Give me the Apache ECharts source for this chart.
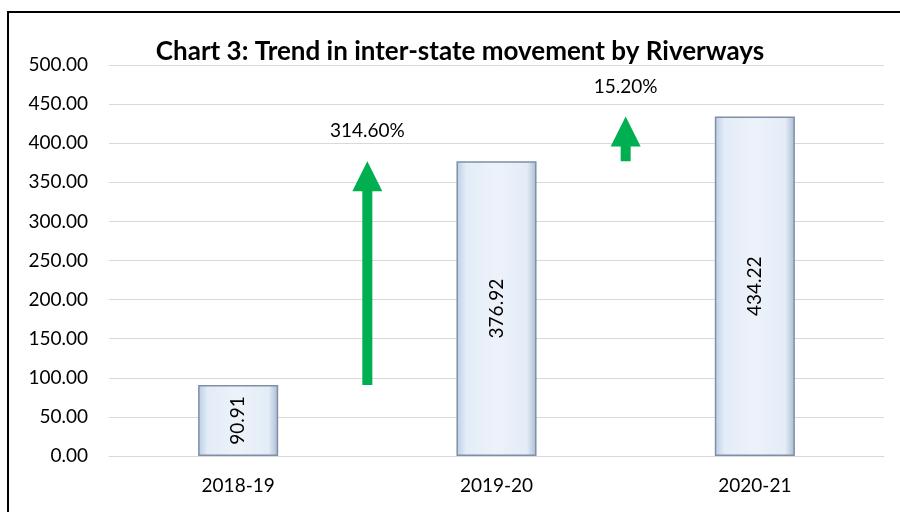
<!DOCTYPE html>
<html>
<head>
<meta charset="utf-8">
<script src="https://cdn.jsdelivr.net/npm/echarts@6/dist/echarts.min.js"></script>
<style>
  html, body { margin: 0; padding: 0; background: #fff; }
  #wrap { position: relative; width: 900px; height: 512px; overflow: hidden; }
  #frame { position: absolute; left: 7px; top: 11px; width: 910px; height: 520px; border: 2px solid #000; box-sizing: border-box; }
  #chart { position: absolute; left: 0; top: 0; width: 900px; height: 512px; }
</style>
</head>
<body>
<div id="wrap">
  <div id="frame"></div>
  <div id="chart"></div>
</div>
<script>
  // 資料
  var years = ['2018-19', '2019-20', '2020-21'];
  var movement = [90.91, 376.92, 434.22];
  var growthText = ['314.60%', '15.20%'];
  var yTicks = [0, 500, 50];

  var FONT = 'Lato';

  // 箭頭資料：位於兩根柱子之間，從前一年值指向後一年值
  var arrowData = [];
  for (var i = 0; i < growthText.length; i++) {
    arrowData.push([i + 1, movement[i], movement[i + 1], growthText[i]]);
  }

  var chart = echarts.init(document.getElementById('chart'));

  function renderArrow(params, api) {
    var base = api.coord([api.value(0), api.value(1)]);
    var tip = api.coord([api.value(0), api.value(2)]);
    var headH = 30, headW = 15, shaftW = 5;
    var x = base[0];
    return {
      type: 'group',
      children: [
        {
          type: 'polygon',
          shape: {
            points: [
              [x - shaftW, base[1]],
              [x - shaftW, tip[1] + headH],
              [x - headW, tip[1] + headH],
              [x, tip[1]],
              [x + headW, tip[1] + headH],
              [x + shaftW, tip[1] + headH],
              [x + shaftW, base[1]]
            ]
          },
          style: { fill: '#00b050' }
        },
        {
          type: 'text',
          x: x,
          y: tip[1] - 30,
          style: {
            text: api.value(3),
            textAlign: 'center',
            textVerticalAlign: 'middle',
            font: '19px ' + FONT,
            fill: '#000'
          }
        }
      ]
    };
  }

  var option = {
    animation: false,
    title: {
      text: 'Chart 3: Trend in inter-state movement by Riverways',
      left: 455,
      top: 34,
      textAlign: 'center',
      textStyle: { fontFamily: FONT, fontWeight: 'bold', fontSize: 26, color: '#000' }
    },
    grid: { left: 109, right: 16, top: 65, bottom: 56 },
    xAxis: [
      {
        type: 'category',
        data: years,
        axisLine: { lineStyle: { color: '#d9d9d9', width: 1 } },
        axisTick: { show: false },
        axisLabel: { color: '#000', fontFamily: FONT, fontSize: 19, margin: 20 }
      },
      {
        type: 'value',
        min: 0,
        max: 3,
        show: false
      }
    ],
    yAxis: {
      type: 'value',
      min: yTicks[0],
      max: yTicks[1],
      interval: yTicks[2],
      axisLine: { show: false },
      axisTick: { show: false },
      splitLine: { lineStyle: { color: '#d9d9d9', width: 1 } },
      axisLabel: {
        color: '#000', fontFamily: FONT, fontSize: 19, margin: 21,
        formatter: function (v) { return v.toFixed(2); }
      }
    },
    series: [
      {
        type: 'bar',
        data: movement,
        barWidth: '31%',
        itemStyle: {
          color: new echarts.graphic.LinearGradient(0, 0, 1, 0, [
            { offset: 0, color: '#b9cde6' },
            { offset: 0.12, color: '#e3ecf7' },
            { offset: 0.5, color: '#edf2fa' },
            { offset: 0.88, color: '#e3ecf7' },
            { offset: 1, color: '#a9bbd3' }
          ]),
          borderColor: '#7f8fa5',
          borderWidth: 1.5
        },
        label: {
          show: true,
          position: 'inside',
          rotate: 90,
          color: '#000',
          fontFamily: FONT,
          fontSize: 19,
          formatter: function (p) { return p.value.toFixed(2); }
        }
      },
      {
        type: 'custom',
        xAxisIndex: 1,
        renderItem: renderArrow,
        data: arrowData,
        z: 5
      }
    ]
  };

  chart.setOption(option);
</script>
</body>
</html>
